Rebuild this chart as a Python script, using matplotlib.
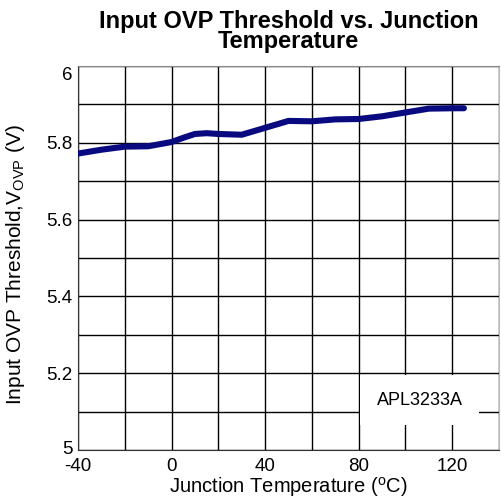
import matplotlib
matplotlib.use("Agg")
import matplotlib.pyplot as plt
import matplotlib.transforms as mtransforms
from matplotlib.ticker import MultipleLocator

plt.rcParams['font.family'] = ['Liberation Sans', 'DejaVu Sans']
plt.rcParams['mathtext.fontset'] = 'custom'
plt.rcParams['mathtext.rm'] = 'Liberation Sans'
plt.rcParams['axes.unicode_minus'] = False

# Junction temperature (C) and OVP threshold (V)
temp = [-40, -30, -20, -10, 0, 5, 10, 15, 20, 30, 40, 50, 60, 70, 80, 90, 100, 110, 120, 125]
vovp = [5.772, 5.782, 5.790, 5.791, 5.802, 5.813, 5.823, 5.825, 5.823, 5.821, 5.839, 5.857, 5.856, 5.861, 5.862, 5.869, 5.879, 5.889, 5.890, 5.890]
xticks = [-40, 0, 40, 80, 120]
yticks = [5, 5.2, 5.4, 5.6, 5.8, 6]
ytick_labels = ["5", "5.2", "5.4", "5.6", "5.8", "6"]

fig = plt.figure(figsize=(5.01, 5.03), dpi=100)
ax = fig.add_axes([78/501, 1-450/503, (499-78)/501, (450-66)/503])
ax.plot(temp, vovp, color="#0a0a80", lw=4.4, solid_capstyle="round", zorder=3)

ax.set_xlim(-40, 140); ax.set_ylim(5, 6)
ax.xaxis.set_minor_locator(MultipleLocator(20))
ax.yaxis.set_minor_locator(MultipleLocator(0.1))
ax.set_xticks(xticks); ax.set_yticks(yticks); ax.set_yticklabels(ytick_labels)
ax.grid(which="both", color="black", lw=1.0)
ax.tick_params(which="both", length=0, labelsize=13.5)
ax.tick_params(axis="x", pad=6)
ax.tick_params(axis="y", pad=4)
for s in ("left", "bottom"):
    ax.spines[s].set_color("#333333")
ax.spines["top"].set_color("#888888")
ax.spines["right"].set_color("#bbbbbb")

# end labels sit inside the frame, as in the original
ylabs = ax.get_yticklabels()
ylabs[0].set_transform(ylabs[0].get_transform() + mtransforms.ScaledTranslation(0, 3/100, fig.dpi_scale_trans))
ylabs[-1].set_transform(ylabs[-1].get_transform() + mtransforms.ScaledTranslation(0, -8/100, fig.dpi_scale_trans))

ax.set_xlabel("Junction Temperature ($^{\\mathrm{o}}$C)", fontsize=14.5, labelpad=0)
ax.set_ylabel("Input OVP Threshold,V$_{\\mathrm{OVP}}$ (V)", fontsize=15)
ax.yaxis.set_label_coords(-0.12, 0.482)
ax.set_title("Input OVP Threshold vs. Junction\nTemperature", fontsize=17,
             fontweight="bold", linespacing=0.85, pad=13)

ax.text(106, 5.13, "APL3233A", fontsize=13, ha="center", va="center", zorder=4,
        bbox=dict(facecolor="white", edgecolor="none", pad=12))

fig.savefig("out.png", dpi=100)
